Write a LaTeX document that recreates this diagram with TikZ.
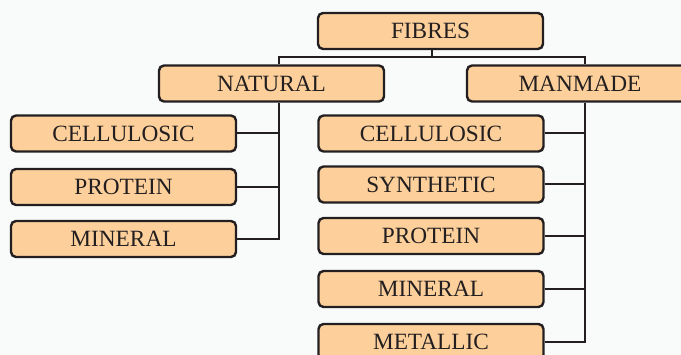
\documentclass[tikz,border=0pt]{standalone}
\usepackage{fontspec}
\setmainfont{Liberation Serif}
\definecolor{bg}{HTML}{F9FBFB}
\definecolor{boxfill}{HTML}{FDD09B}
\definecolor{ink}{HTML}{231F20}
\begin{document}
\begin{tikzpicture}[x=1pt,y=-1pt,
  fbox/.style={draw=ink, fill=boxfill, line width=2.4pt, rounded corners=5pt,
    minimum width=225pt, minimum height=36pt, inner sep=0pt,
    text height=15.6pt, text depth=0pt, text=ink,
    font=\fontsize{23.3}{27}\selectfont},
  link/.style={draw=ink, line width=2pt}]
\fill[bg] (0,0) rectangle (681,355);
\useasboundingbox (0,0) rectangle (681,355);
\begin{scope}
\clip (0,0) rectangle (681,355);
\node[fbox] (fib) at (430.5,31) {FIBRES};
\node[fbox] (nat) at (271.5,83.5) {NATURAL};
\node[fbox, minimum width=226pt] (man) at (580,83.5) {MANMADE};
\node[fbox] (lcel) at (123.5,133.5) {CELLULOSIC};
\node[fbox] (lpro) at (123.5,187) {PROTEIN};
\node[fbox] (lmin) at (123.5,239) {MINERAL};
\node[fbox] (rcel) at (431,133.5) {CELLULOSIC};
\node[fbox] (rsyn) at (431,184.5) {SYNTHETIC};
\node[fbox] (rpro) at (431,236) {PROTEIN};
\node[fbox] (rmin) at (431,289) {MINERAL};
\node[fbox] (rmet) at (431,342) {METALLIC};
\coordinate (natx) at (278.5,0);
\coordinate (manx) at (584.5,0);
\coordinate (bus) at (432,57);
\draw[link] (fib.south -| bus) -- (bus);
\draw[link] (nat.north -| natx) |- (bus) -| (man.north -| manx);
\draw[link] (nat.south -| natx) |- (lmin.east);
\draw[link] (lcel.east) -- (lcel.east -| natx);
\draw[link] (lpro.east) -- (lpro.east -| natx);
\draw[link] (man.south -| manx) |- (rmet.east);
\draw[link] (rcel.east) -- (rcel.east -| manx);
\draw[link] (rsyn.east) -- (rsyn.east -| manx);
\draw[link] (rpro.east) -- (rpro.east -| manx);
\draw[link] (rmin.east) -- (rmin.east -| manx);
\end{scope}
\end{tikzpicture}
\end{document}
